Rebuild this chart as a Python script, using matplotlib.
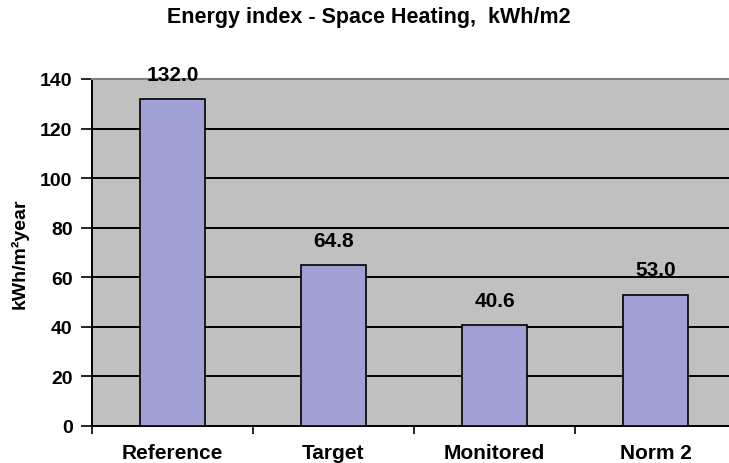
import matplotlib
matplotlib.use("Agg")
import matplotlib.pyplot as plt

categories = ["Reference", "Target", "Monitored", "Norm 2"]
values = [132.0, 64.8, 40.6, 53.0]
yticks = [0, 20, 40, 60, 80, 100, 120, 140]

plt.rcParams["font.family"] = ["Liberation Sans", "DejaVu Sans"]
plt.rcParams["font.weight"] = "bold"

fig = plt.figure(figsize=(7.29, 4.64), dpi=100)
ax = fig.add_axes([92 / 729, 37 / 464, 637 / 729, 347 / 464])
ax.set_facecolor("#c0c0c0")

x = list(range(len(categories)))
ax.bar(x, values, width=0.40, color="#a0a0d4", edgecolor="black", linewidth=1.2, zorder=3)

for xi, v in zip(x, values):
    ax.annotate(f"{v:.1f}", xy=(xi, v), xytext=(0, 11), textcoords="offset points",
                ha="center", va="bottom", fontsize=15, fontweight="bold")

ax.set_ylim(0, 140)
ax.set_xlim(-0.5, (729 - 92) / 161 - 0.5)
ax.set_yticks(yticks)
ax.set_yticklabels([str(t) for t in yticks], fontsize=14, fontweight="bold")
ax.yaxis.grid(True, color="black", linewidth=1.4, zorder=1)
ax.set_axisbelow(True)

ax.set_xticks([i - 0.5 for i in x])
ax.set_xticklabels([])
ax.set_xticks(x, minor=True)
ax.set_xticklabels(categories, minor=True, fontsize=15, fontweight="bold")
ax.tick_params(axis="x", which="major", length=6, width=1.2, direction="out")
ax.tick_params(axis="x", which="minor", length=0, pad=12)
ax.tick_params(axis="y", length=8, width=1.2, direction="out", pad=6)

ax.spines["top"].set_color("#808080")
ax.spines["top"].set_linewidth(1.5)
ax.spines["right"].set_visible(False)
ax.spines["left"].set_linewidth(1.4)
ax.spines["bottom"].set_linewidth(1.4)

ax.set_ylabel("kWh/m²year", fontsize=14, fontweight="bold", labelpad=8)
fig.text(369 / 729, 1 - 18 / 464, "Energy index - Space Heating,  kWh/m2",
         ha="center", va="center", fontsize=15.5, fontweight="bold")

fig.savefig("out.png", dpi=100)
